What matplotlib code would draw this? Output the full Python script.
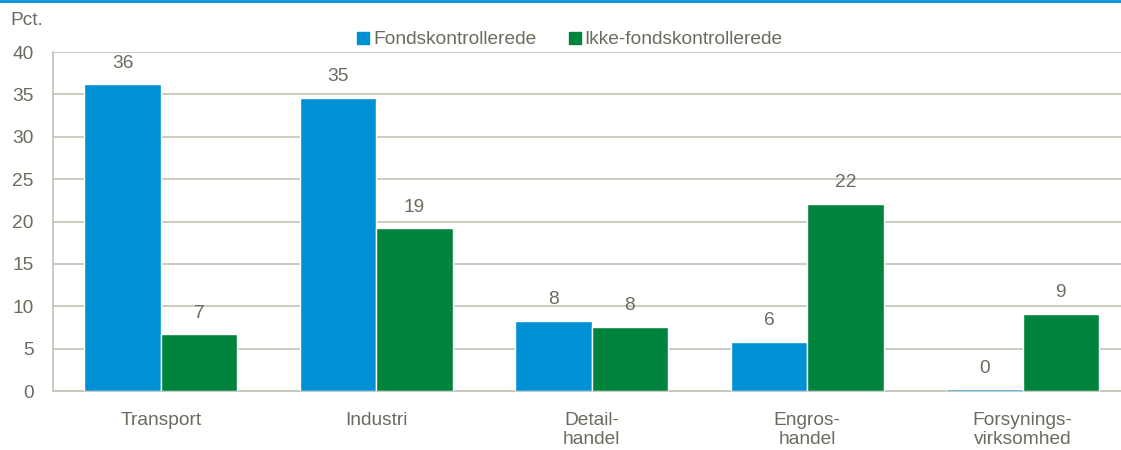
import numpy as np
import matplotlib
matplotlib.use("Agg")
import matplotlib.pyplot as plt
from matplotlib.lines import Line2D

categories = ["Transport", "Industri", "Detail-\nhandel", "Engros-\nhandel", "Forsynings-\nvirksomhed"]
fonds = [36.2, 34.6, 8.3, 5.8, 0.2]
ikke_fonds = [6.7, 19.2, 7.6, 22.1, 9.1]
series_names = ["Fondskontrollerede", "Ikke-fondskontrollerede"]
yticks = [0, 5, 10, 15, 20, 25, 30, 35, 40]

blue = "#0090D5"
green = "#00843D"
txt = "#6B6B5E"
grid = "#C4C2B8"
fs = 13.8

plt.rcParams["font.family"] = ["Liberation Sans", "DejaVu Sans"]

fig = plt.figure(figsize=(11.21, 4.5), dpi=100)
ax = fig.add_axes([0.0473, 0.131, 0.961, 0.7534])

x = np.arange(len(categories))
w = 0.355
b1 = ax.bar(x - w / 2, fonds, w, color=blue, edgecolor="white", linewidth=1, zorder=3)
b2 = ax.bar(x + w / 2, ikke_fonds, w, color=green, edgecolor="white", linewidth=1, zorder=3)

for bars, vals in ((b1, fonds), (b2, ikke_fonds)):
    for rect, v in zip(bars, vals):
        ax.annotate(f"{v:.0f}", (rect.get_x() + rect.get_width() / 2, v),
                    xytext=(0, 9), textcoords="offset points",
                    ha="center", va="bottom", fontsize=fs, color=txt)

ax.set_xlim(-0.5, len(categories) - 0.5)
ax.set_ylim(0, 40)
ax.set_yticks(yticks)
ax.set_xticks(x)
ax.set_xticklabels(categories)
ax.tick_params(axis="both", length=0, labelsize=fs, labelcolor=txt)
ax.tick_params(axis="y", pad=14)
ax.tick_params(axis="x", pad=15)
ax.yaxis.grid(True, color=grid, linewidth=1.2, zorder=0)
for s in ["top", "right"]:
    ax.spines[s].set_visible(False)
for s in ["left", "bottom"]:
    ax.spines[s].set_color(grid)
    ax.spines[s].set_linewidth(1.2)

handles = [Line2D([], [], marker="s", linestyle="none", markersize=8, color=c) for c in (blue, green)]
fig.legend(handles, series_names, loc="center", bbox_to_anchor=(0.5076, 0.912), ncol=2,
           frameon=False, fontsize=fs, labelcolor=txt, handletextpad=0.1,
           columnspacing=1.6, handlelength=0.8)

fig.text(0.009, 0.955, "Pct.", fontsize=fs, color=txt, ha="left", va="center")
fig.add_artist(Line2D([0, 1], [0.997, 0.997], transform=fig.transFigure, color=blue, linewidth=2))

fig.savefig("out.png", dpi=100)
